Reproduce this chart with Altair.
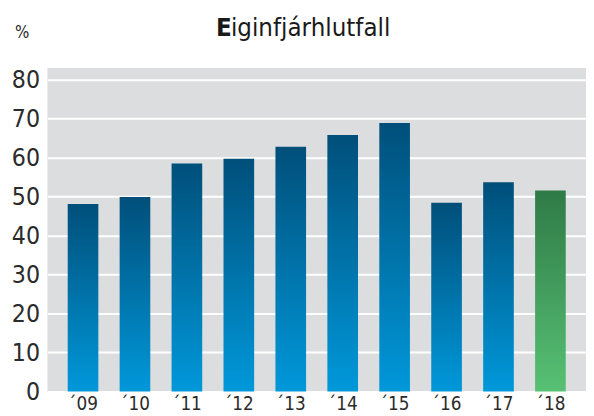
import altair as alt
import pandas as pd

years = ["´09", "´10", "´11", "´12", "´13", "´14", "´15", "´16", "´17", "´18"]
values = [48.1, 49.9, 58.5, 59.7, 62.8, 65.8, 68.9, 48.4, 53.7, 51.6]
highlight = [False] * 9 + [True]

df = pd.DataFrame({"year": years, "value": values, "hl": highlight})

FONT = "DejaVu Sans Condensed, Liberation Sans Narrow, Roboto, sans-serif"

blue = alt.Gradient(gradient="linear", x1=0, x2=0, y1=0, y2=1,
                    stops=[alt.GradientStop(color="#004f7a", offset=0),
                           alt.GradientStop(color="#0098da", offset=1)])
green = alt.Gradient(gradient="linear", x1=0, x2=0, y1=0, y2=1,
                     stops=[alt.GradientStop(color="#2f7a47", offset=0),
                            alt.GradientStop(color="#57c174", offset=1)])

x = alt.X("year:N", sort=years, title=None,
          scale=alt.Scale(paddingInner=0.41, paddingOuter=0.39),
          axis=alt.Axis(labelAngle=0, labelFont=FONT, labelFontSize=19,
                        labelColor="#2b2b2b", ticks=False, domain=False,
                        labelPadding=3, grid=False))
y = alt.Y("value:Q", title=None,
          scale=alt.Scale(domain=[0, 83], nice=False, zero=True),
          axis=alt.Axis(values=[0, 10, 20, 30, 40, 50, 60, 70, 80],
                        labelFont=FONT, labelFontSize=25, labelColor="#2b2b2b",
                        ticks=False, domain=False, labelPadding=8,
                        gridColor="white", gridWidth=2))

base = alt.Chart(df)
bars_blue = base.transform_filter("!datum.hl").mark_bar(color=blue).encode(x=x, y=y)
bars_green = base.transform_filter("datum.hl").mark_bar(color=green).encode(x=x, y=y)

title_e = alt.Chart(pd.DataFrame({"t": ["E"]})).mark_text(
    font=FONT, fontSize=26, fontWeight="bold", align="left", baseline="alphabetic",
    color="#1a1a1a").encode(text="t:N", x=alt.value(171), y=alt.value(-32))
title_rest = alt.Chart(pd.DataFrame({"t": ["iginfjárhlutfall"]})).mark_text(
    font=FONT, fontSize=26, align="left", baseline="alphabetic",
    color="#1a1a1a").encode(text="t:N", x=alt.value(186), y=alt.value(-32))
pct = alt.Chart(pd.DataFrame({"t": ["%"]})).mark_text(
    font=FONT, fontSize=17, align="left", baseline="alphabetic",
    color="#2b2b2b").encode(text="t:N", x=alt.value(-33), y=alt.value(-30))

chart = alt.layer(bars_blue, bars_green, title_e, title_rest, pct).properties(
    width=546, height=328,
    autosize=alt.AutoSizeParams(type="none"),
    padding={"left": 40, "top": 58, "right": 0, "bottom": 24},
    background="white",
).configure_view(fill="#dcdddf", stroke=None)

chart.save("out.html", embed_options={"renderer": "svg", "actions": False})
